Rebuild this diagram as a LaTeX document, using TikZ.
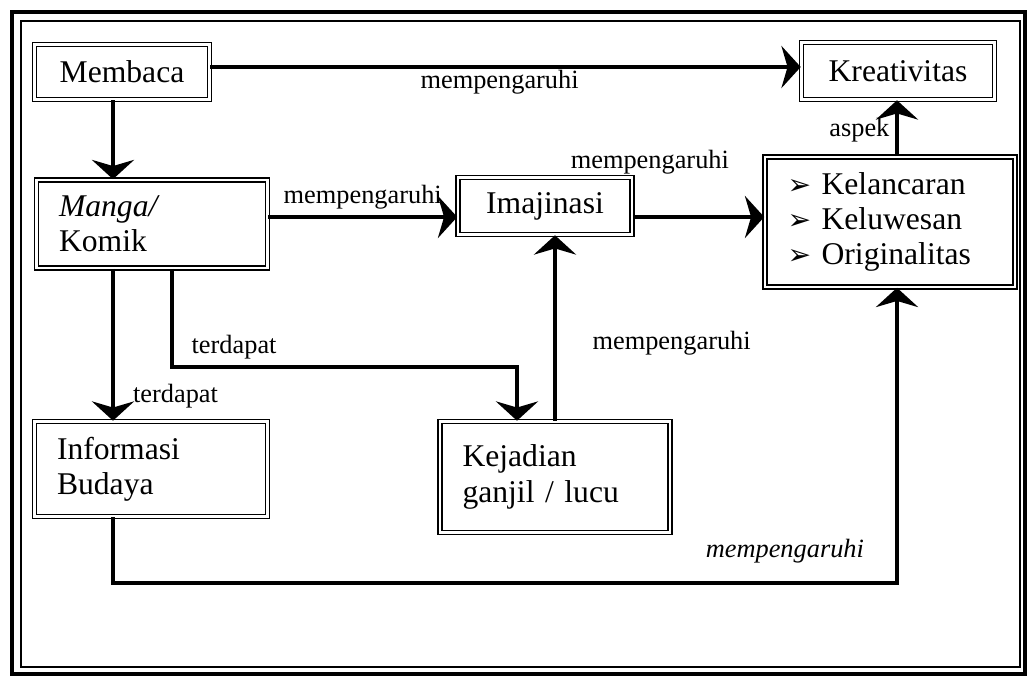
\documentclass[tikz,border=0pt]{standalone}
\usepackage{fontspec}
\setmainfont{Liberation Serif}
\newfontfamily\dejavu{DejaVu Sans}
\usetikzlibrary{arrows.meta,positioning}

\tikzset{
	box/.style={draw, double, double distance=1.3pt, line width=0.9pt, inner xsep=0.45cm, inner ysep=0pt, font=\fontsize{18}{20}\selectfont},
	link/.style={line width=2pt, -{Stealth[length=11pt, width=24pt, inset=3.5pt]}},
	lbl/.style={font=\fontsize{15}{17}\selectfont},
}
\newcommand{\pointer}{{\dejavu\fontsize{16}{20}\selectfont ➢}\ }

\begin{document}
\begin{tikzpicture}[x=0.02cm, y=-0.02cm]
	\useasboundingbox (0,0) rectangle (1028,678);
	\draw[line width=2.4pt] (12,12) rectangle (1025,674);
	\draw[line width=1.3pt] (21,21) rectangle (1020,667);

	\node[box, minimum width=3.5cm, minimum height=1.1cm] (membaca) at (122,72) {Membaca};
	\node[box, minimum width=3.86cm, minimum height=1.14cm] (kreativ) at (898,71) {Kreativitas};
	\node[box, text width=3.72cm, align=left, minimum height=1.76cm] (manga) at (152,224) {\textit{Manga/}\\Komik};
	\node[box, minimum width=3.48cm, minimum height=1.14cm] (imaj) at (545,206) {Imajinasi};
	\node[box, text width=4.1cm, align=left, minimum height=2.6cm] (kel) at (890,222)
		{\pointer Kelancaran\\\pointer Keluwesan\\\pointer Originalitas};
	\node[box, text width=3.76cm, align=left, minimum height=1.9cm] (info) at (151,469) {Informasi\\Budaya};
	\node[box, text width=3.7cm, align=left, minimum height=2.22cm] (kej) at (555,477) {Kejadian\\ganjil / lucu};

	\coordinate (colA) at (113,0);
	\coordinate (colB) at (172,0);
	\coordinate (colC) at (517,0);
	\coordinate (colD) at (555,0);
	\coordinate (colE) at (897,0);
	\coordinate (row0) at (0,67);
	\coordinate (rowA) at (0,217);
	\coordinate (rowB) at (0,367);
	\coordinate (rowC) at (0,583);

	\draw[link] (membaca.east |- row0) -- node[lbl, below, inner sep=1pt, pos=0.49] {mempengaruhi} (kreativ.west |- row0);
	\draw[link] (membaca.south -| colA) -- (manga.north -| colA);
	\draw[link] (manga.east |- rowA) -- node[lbl, above, pos=0.5] {mempengaruhi} (imaj.west |- rowA);
	\draw[link] (imaj.east |- rowA) -- node[lbl, above=0.7cm, pos=0.13] {mempengaruhi} (kel.west |- rowA);
	\draw[link] (kel.north -| colE) -- node[lbl, left, pos=0.47] {aspek} (kreativ.south -| colE);
	\draw[link] (manga.south -| colA) -- node[lbl, anchor=west, xshift=0.25cm, pos=0.84] {terdapat} (info.north -| colA);
	\draw[link] (manga.south -| colB) -- (colB |- rowB)
		-- node[lbl, above, pos=0.18] {terdapat} (colC |- rowB) -- (kej.north -| colC);
	\draw[link] (kej.north -| colD) -- node[lbl, anchor=west, xshift=0.6cm, pos=0.42] {mempengaruhi} (imaj.south -| colD);
	\draw[link] (info.south -| colA) -- (colA |- rowC)
		-- node[lbl, above=0.25cm, pos=0.857] {\textit{mempengaruhi}} (colE |- rowC) -- (kel.south -| colE);
\end{tikzpicture}
\end{document}
